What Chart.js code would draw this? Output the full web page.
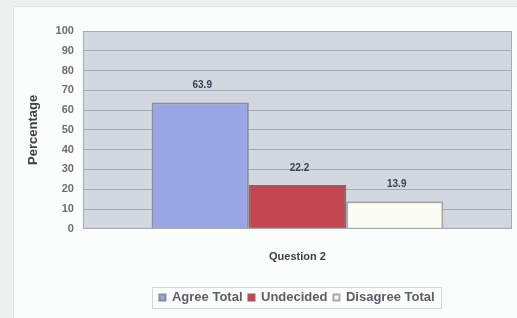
<!DOCTYPE html>
<html>
<head>
<meta charset="utf-8">
<script src="https://cdn.jsdelivr.net/npm/chart.js@4/dist/chart.umd.min.js"></script>
<style>
  html, body { margin: 0; padding: 0; background: #eef0f0; }
  #wrap { position: relative; width: 517px; height: 318px; }
  #frame { position: absolute; left: 13px; top: 6px; width: 503px; height: 311px; background: #fbfcfc; border: 1px solid #dfe2e2; }
  canvas { position: absolute; left: 0; top: 0; }
</style>
</head>
<body>
<div id="wrap">
  <div id="frame"></div>
  <canvas id="c" width="517" height="318"></canvas>
</div>
<script>
const categories = ['Question 2'];
const seriesNames = ['Agree Total', 'Undecided', 'Disagree Total'];
const seriesValues = [[63.9], [22.2], [13.9]];
const yTicks = [0, 10, 20, 30, 40, 50, 60, 70, 80, 90, 100];
const fills = ['#9aa6e4', '#c4464f', '#fbfdf4'];
const borders = ['#8a8e9c', '#a8545c', '#a9aaa8'];
const FONT = '"Liberation Sans", Arial, sans-serif';

const plotBg = {
  id: 'plotBg',
  afterLayout(chart) {
    // centre the legend under the plot area, as in the original
    const lg = chart.legend;
    const a = chart.chartArea;
    const shift = Math.round((a.left + a.right) / 2 - (lg.left + lg.right) / 2);
    lg.left += shift; lg.right += shift;
    if (lg.legendHitBoxes) lg.legendHitBoxes.forEach(h => { h.left += shift; });
  },
  beforeDraw(chart) {
    const { ctx, chartArea: a } = chart;
    ctx.save();
    ctx.fillStyle = '#d3d7df';
    ctx.fillRect(a.left, a.top, a.right - a.left, a.bottom - a.top);
    ctx.restore();
  },
  afterDraw(chart) {
    const { ctx, chartArea: a } = chart;
    ctx.save();
    ctx.strokeStyle = '#a9acb3';
    ctx.lineWidth = 1;
    ctx.strokeRect(a.left + 0.5, a.top + 0.5, a.right - a.left - 1, a.bottom - a.top - 1);
    // legend frame around the items
    const boxes = chart.legend.legendHitBoxes;
    if (boxes && boxes.length) {
      let l = Infinity, r = -Infinity, t = Infinity, b = -Infinity;
      boxes.forEach(h => { l = Math.min(l, h.left); r = Math.max(r, h.left + h.width); t = Math.min(t, h.top); b = Math.max(b, h.top + h.height); });
      ctx.strokeStyle = '#d3d6d6';
      ctx.strokeRect(Math.round(l - 7) + 0.5, Math.round(t - 4) + 0.5, Math.round(r - l + 14), Math.round(b - t + 8));
    }
    // value labels
    ctx.fillStyle = '#3a3f55';
    ctx.font = 'bold 10px ' + FONT;
    ctx.textAlign = 'center';
    ctx.textBaseline = 'bottom';
    chart.data.datasets.forEach((ds, i) => {
      chart.getDatasetMeta(i).data.forEach((bar, j) => {
        ctx.fillText(ds.data[j].toFixed(1), bar.x + 2, bar.y - 12);
      });
    });
    ctx.restore();
  }
};

new Chart(document.getElementById('c'), {
  type: 'bar',
  data: {
    labels: categories,
    datasets: seriesNames.map((n, i) => ({
      label: n,
      data: seriesValues[i],
      backgroundColor: fills[i],
      borderColor: borders[i],
      borderWidth: 2,
      barPercentage: 1.0,
      categoryPercentage: 0.68
    }))
  },
  options: {
    responsive: false,
    animation: false,
    devicePixelRatio: 1,
    layout: { padding: { left: 26, right: 5, top: 31, bottom: 4 } },
    plugins: {
      tooltip: { enabled: false },
      legend: {
        position: 'bottom',
        labels: {
          boxWidth: 6, boxHeight: 6, padding: 6,
          color: '#5a5f66',
          font: { size: 13, family: FONT, weight: 'bold' }
        }
      }
    },
    scales: {
      x: {
        grid: { display: false },
        border: { display: false },
        afterFit(axis) { axis.height += 7; },
        ticks: {
          padding: 14,
          color: '#3c4048',
          font: { size: 11, weight: 'bold', family: FONT }
        }
      },
      y: {
        min: 0, max: 100,
        afterBuildTicks(axis) { axis.ticks = yTicks.map(v => ({ value: v })); },
        grid: { color: '#a4a8b0', drawTicks: false },
        border: { display: false },
        ticks: {
          padding: 9,
          color: '#6a6e74',
          font: { size: 11, weight: 'bold', family: FONT }
        },
        title: {
          display: true, text: 'Percentage',
          color: '#3c4048',
          padding: { top: 0, bottom: 5 },
          font: { size: 13, weight: 'bold', family: FONT }
        }
      }
    }
  },
  plugins: [plotBg]
});
</script>
</body>
</html>
